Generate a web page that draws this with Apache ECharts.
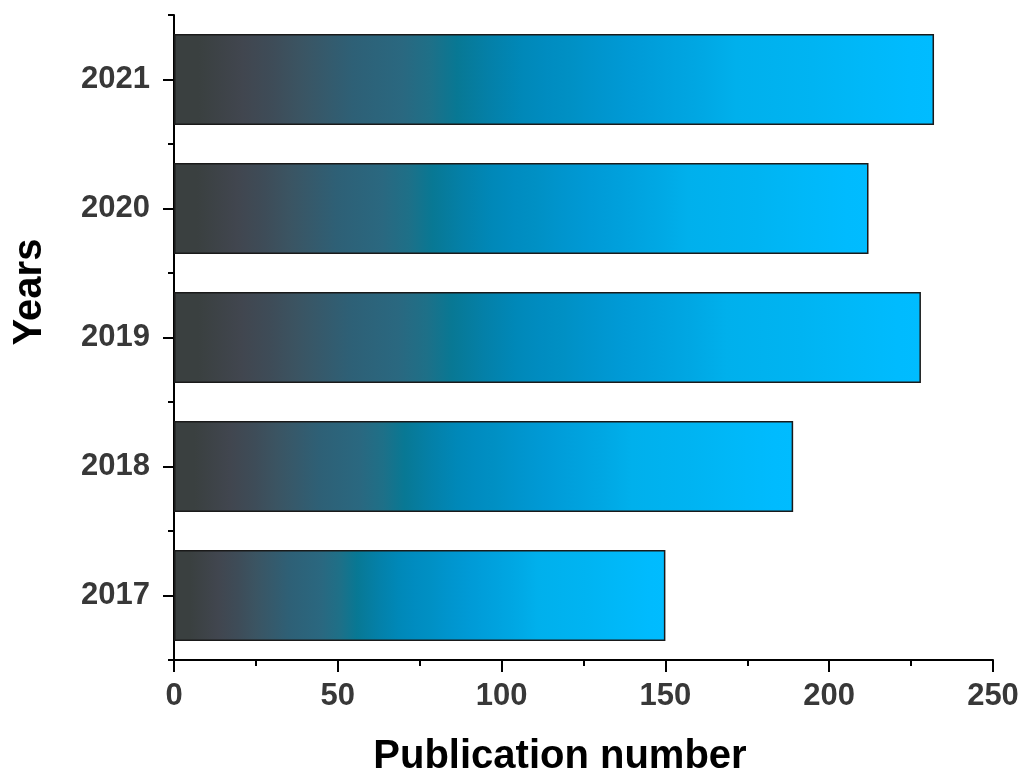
<!DOCTYPE html>
<html>
<head>
<meta charset="utf-8">
<script src="https://cdn.jsdelivr.net/npm/echarts@6/dist/echarts.min.js"></script>
<style>
  html, body { margin: 0; padding: 0; background: #ffffff; }
  #chart { width: 1022px; height: 780px; }
</style>
</head>
<body>
<div id="chart"></div>
<script>
// Publications per year
const years = ['2017', '2018', '2019', '2020', '2021'];
const publications = [150, 189, 228, 212, 232];
const xTicks = [0, 50, 100, 150, 200, 250];

// Fill colours along each bar, from its base (0) to its end (1)
const fillStops = [
  [0.000, '#3a4040'], [0.033, '#3a4040'], [0.090, '#41464f'], [0.130, '#3e4c58'],
  [0.165, '#3b5462'], [0.200, '#355a6c'], [0.235, '#2e6076'], [0.300, '#2a6880'],
  [0.338, '#1e7088'], [0.372, '#087894'], [0.415, '#0480a8'], [0.457, '#0088b8'],
  [0.490, '#008cc0'], [0.520, '#0090c4'], [0.552, '#0094cc'], [0.600, '#009ad6'],
  [0.655, '#00a2de'], [0.697, '#00a8e4'], [0.740, '#00b0ec'], [0.840, '#00b4f2'],
  [0.904, '#00b8f8'], [0.968, '#00bbfe'], [1.000, '#00bcff']
];
const stops = fillStops.map(s => ({ offset: s[0], color: s[1] }));

const FONT = '"Liberation Sans", Arial, sans-serif';
const gridBox = { left: 174, right: 29, top: 15, bottom: 120 };

const chart = echarts.init(document.getElementById('chart'), null, { renderer: 'canvas' });
chart.setOption({
  backgroundColor: '#ffffff',
  animation: false,
  grid: [Object.assign({}, gridBox), Object.assign({}, gridBox)],
  xAxis: [{
    type: 'value',
    gridIndex: 0,
    min: xTicks[0],
    max: xTicks[xTicks.length - 1],
    interval: 50,
    axisLine: { show: true, onZero: false, lineStyle: { color: '#000', width: 2 } },
    axisTick: { show: true, inside: false, length: 12, lineStyle: { color: '#000', width: 2 } },
    minorTick: { show: true, splitNumber: 2, length: 6, lineStyle: { color: '#000', width: 2 } },
    axisLabel: { margin: 21, color: '#383838', fontSize: 31, fontWeight: 'bold', fontFamily: FONT },
    splitLine: { show: false }
  }, {
    type: 'value',
    gridIndex: 1,
    min: 0,
    max: 250,
    show: false
  }],
  yAxis: [{
    type: 'category',
    gridIndex: 0,
    data: years,
    axisLine: { show: true, lineStyle: { color: '#000', width: 2 } },
    axisTick: { show: true, alignWithLabel: true, length: 11, lineStyle: { color: '#000', width: 2 } },
    axisLabel: { margin: 24, color: '#383838', fontSize: 31, fontWeight: 'bold', fontFamily: FONT },
    splitLine: { show: false }
  }, {
    // boundary ticks between the year bands
    type: 'category',
    gridIndex: 1,
    data: years,
    axisLine: { show: false },
    axisTick: { show: true, alignWithLabel: false, length: 6, lineStyle: { color: '#000', width: 2 } },
    axisLabel: { show: false },
    splitLine: { show: false }
  }],
  graphic: [{
    type: 'text',
    style: {
      text: 'Publication number',
      x: 560, y: 757,
      textAlign: 'center', textVerticalAlign: 'middle',
      font: 'bold 40px ' + FONT, fill: '#000'
    }
  }, {
    type: 'text',
    x: 30, y: 292,
    rotation: Math.PI / 2,
    style: {
      text: 'Years',
      x: 0, y: 0,
      textAlign: 'center', textVerticalAlign: 'middle',
      font: 'bold 40px ' + FONT, fill: '#000'
    }
  }],
  series: [{
    type: 'bar',
    xAxisIndex: 0,
    yAxisIndex: 0,
    data: publications,
    barWidth: 91,
    itemStyle: {
      color: new echarts.graphic.LinearGradient(0, 0, 1, 0, stops),
      borderColor: '#1a1a1a',
      borderWidth: 1.5
    }
  }]
});
</script>
</body>
</html>
